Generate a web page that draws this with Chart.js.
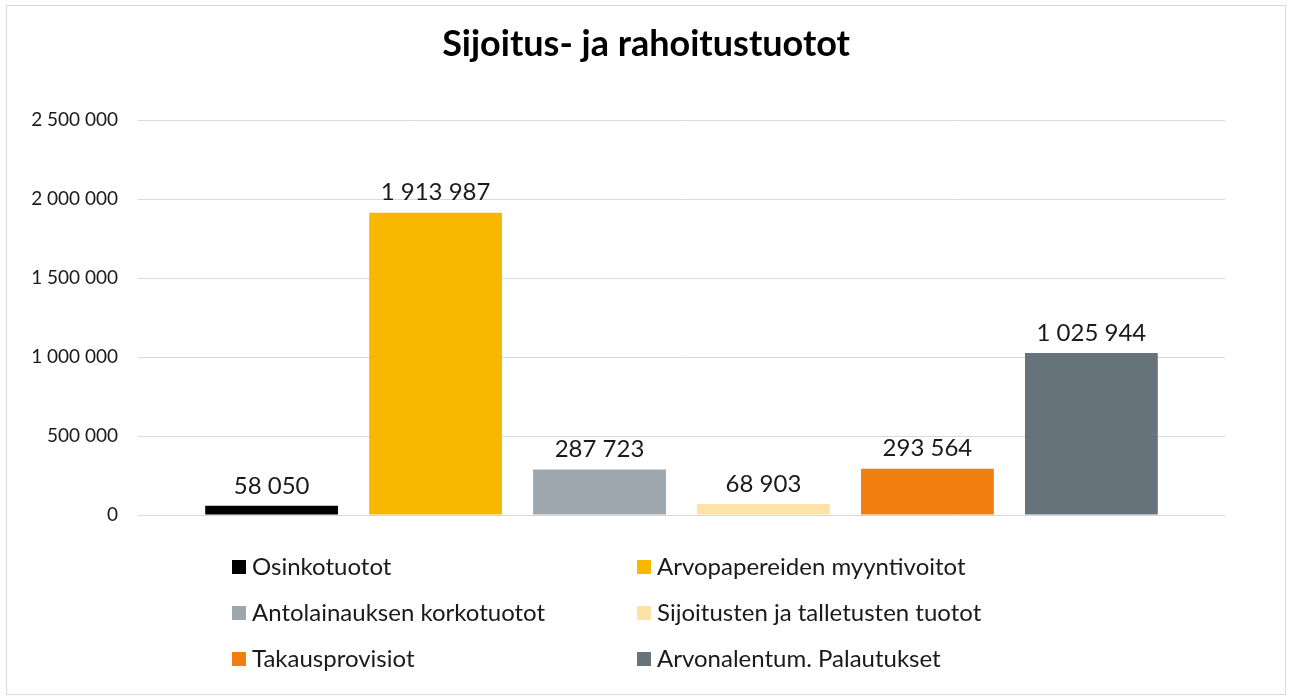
<!DOCTYPE html>
<html>
<head>
<meta charset="utf-8">
<script src="https://cdn.jsdelivr.net/npm/chart.js@4.4.1/dist/chart.umd.min.js"></script>
<style>
  html, body { margin: 0; padding: 0; background: #fff; }
  #wrap { position: absolute; left: 6px; top: 5px; width: 1278px; height: 688px; border: 1px solid #d9d9d9; }
  canvas { display: block; }
</style>
</head>
<body>
<div id="wrap"><canvas id="chart" width="1278" height="688"></canvas></div>
<script>
const title = 'Sijoitus- ja rahoitustuotot'
const seriesNames = [
  'Osinkotuotot',
  'Arvopapereiden myyntivoitot',
  'Antolainauksen korkotuotot',
  'Sijoitusten ja talletusten tuotot',
  'Takausprovisiot',
  'Arvonalentum. Palautukset'
]
const seriesValues = [58050, 1913987, 287723, 68903, 293564, 1025944]
const seriesColors = ['#000000', '#F8B800', '#9EA7AD', '#FDE3A7', '#F07F0E', '#66737B']
const yMin = 0
const yMax = 2500000
const yStep = 500000

const FONT = 'Lato, "Open Sans", sans-serif'

function fmt(v){
  return String(v).replace(/\B(?=(\d{3})+(?!\d))/g, ' ')
}

// value labels above the bars
const valueLabels = {
  id: 'valueLabels',
  afterDatasetsDraw(chart){
    const ctx = chart.ctx
    ctx.save()
    ctx.font = '24px ' + FONT
    ctx.fillStyle = '#1a1a1a'
    ctx.textAlign = 'center'
    ctx.textBaseline = 'bottom'
    chart.data.datasets.forEach((ds, i) => {
      const meta = chart.getDatasetMeta(i)
      meta.data.forEach((bar, j) => {
        ctx.fillText(fmt(ds.data[j]), bar.x, bar.y - 8)
      })
    })
    ctx.restore()
  }
}

// two column legend under the plot
const gridLegend = {
  id: 'gridLegend',
  afterDraw(chart){
    const ctx = chart.ctx
    const cols = [225, 630]
    const rowTop = chart.chartArea.bottom + 52
    const rowGap = 46
    ctx.save()
    ctx.font = '24px ' + FONT
    ctx.textBaseline = 'middle'
    ctx.textAlign = 'left'
    chart.data.datasets.forEach((ds, i) => {
      const x = cols[i % 2]
      const y = rowTop + Math.floor(i / 2) * rowGap
      ctx.fillStyle = ds.backgroundColor
      ctx.fillRect(x, y - 7, 14, 14)
      ctx.fillStyle = '#1a1a1a'
      ctx.fillText(ds.label, x + 20, y)
    })
    ctx.restore()
  }
}

new Chart(document.getElementById('chart'), {
  type: 'bar',
  data: {
    labels: [''],
    datasets: seriesNames.map((name, i) => ({
      label: name,
      data: [seriesValues[i]],
      backgroundColor: seriesColors[i],
      borderWidth: 0
    }))
  },
  options: {
    responsive: false,
    animation: false,
    categoryPercentage: 0.905,
    barPercentage: 0.81,
    layout: { padding: { left: 0, right: 0, top: 0, bottom: 179 } },
    plugins: {
      legend: { display: false },
      tooltip: { enabled: false },
      title: {
        display: true,
        text: title,
        color: '#000',
        font: { family: FONT, size: 36, weight: 'bold', lineHeight: 1.2 },
        padding: { top: 17, bottom: 54 }
      }
    },
    scales: {
      x: { display: false },
      y: {
        min: yMin,
        max: yMax,
        afterFit(scale){ scale.width = 131 },
        border: { display: false },
        grid: { color: '#d9d9d9', drawTicks: false },
        ticks: {
          stepSize: yStep,
          padding: 20,
          color: '#1a1a1a',
          font: { family: FONT, size: 19 },
          callback: v => fmt(v)
        }
      },
      // empty right axis keeps the right margin while the title stays centred
      yRight: {
        position: 'right',
        min: yMin,
        max: yMax,
        afterFit(scale){ scale.width = 60 },
        border: { display: false },
        grid: { display: false },
        ticks: { display: false }
      }
    }
  },
  plugins: [valueLabels, gridLegend]
})
</script>
</body>
</html>
